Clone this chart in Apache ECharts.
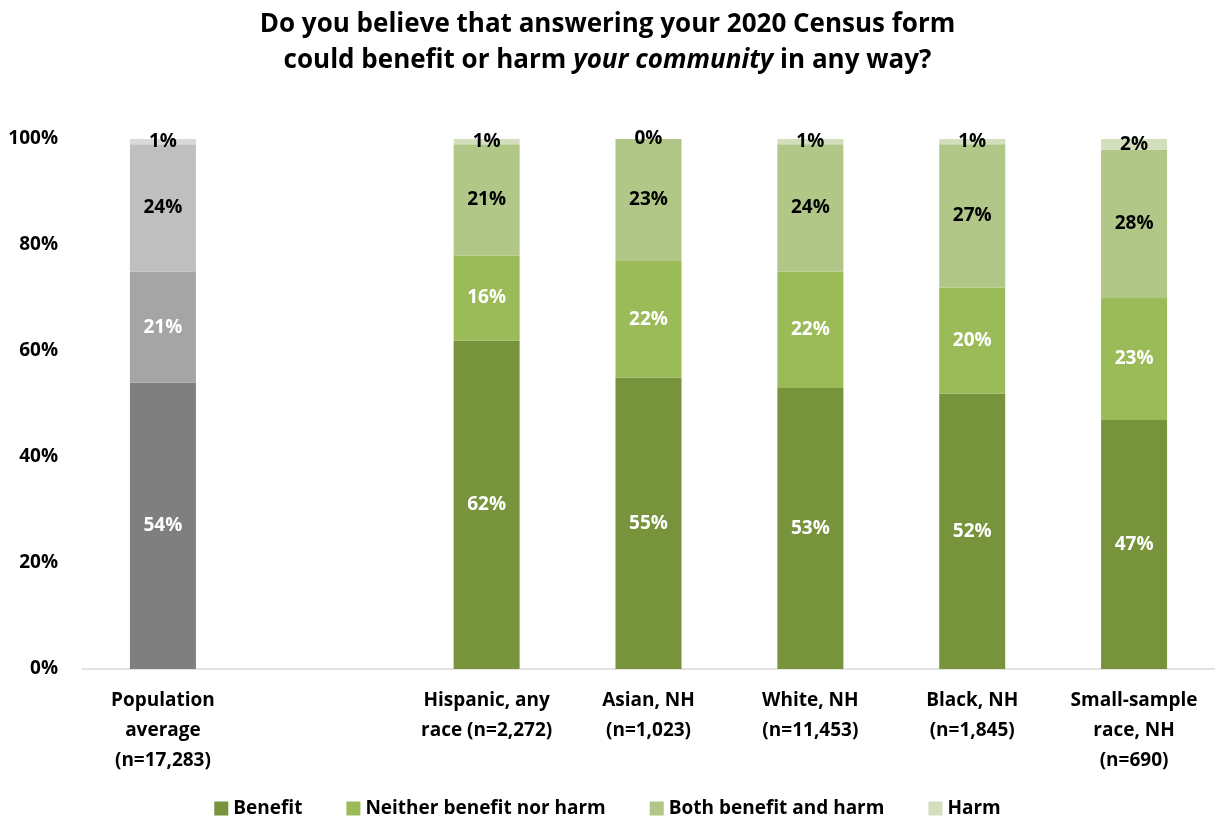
<!DOCTYPE html>
<html><head><meta charset="utf-8">
<script src="https://cdn.jsdelivr.net/npm/echarts@6/dist/echarts.min.js"></script>
<style>html,body{margin:0;padding:0;background:#fff}#c{width:1215px;height:824px}</style>
</head><body><div id="c"></div>
<script>
const categories = ["Population\naverage\n(n=17,283)", "", "Hispanic, any\nrace (n=2,272)", "Asian, NH\n(n=1,023)", "White, NH\n(n=11,453)", "Black, NH\n(n=1,845)", "Small-sample\nrace, NH\n(n=690)"];
const seriesNames = ["Benefit", "Neither benefit nor harm", "Both benefit and harm", "Harm"];
const benefit = [54, null, 62, 55, 53, 52, 47];
const neither = [21, null, 16, 22, 22, 20, 23];
const both = [24, null, 21, 23, 24, 27, 28];
const harm = [1, null, 1, 0, 1, 1, 2];
const yTicks = [0, 20, 40, 60, 80, 100];

const greens = ["#77933c", "#9bbb59", "#b0c788", "#d3dfbc"];
const greys = ["#7f7f7f", "#a5a5a5", "#bfbfbf", "#d9d9d9"];
const labelColors = ["#fff", "#fff", "#000", "#000"];
const FONT = "Open Sans";

const values = [benefit, neither, both, harm];
const series = values.map((arr, si) => ({
  name: seriesNames[si],
  type: "bar",
  stack: "s",
  barWidth: 66,
  itemStyle: { color: greens[si] },
  label: {
    show: true, position: "inside",
    formatter: p => p.value == null ? "" : p.value + "%",
    color: labelColors[si], fontFamily: FONT, fontWeight: "bold", fontSize: 19
  },
  data: arr.map((v, i) => i === 0 ? { value: v, itemStyle: { color: greys[si] } } : v)
}));

const chart = echarts.init(document.getElementById("c"));
chart.setOption({
  animation: false,
  title: {
    text: "Do you believe that answering your 2020 Census form\n{n|could benefit or harm }{i|your community}{n| in any way?}",
    left: "center", top: 2,
    textStyle: {
      fontFamily: FONT, fontWeight: "bold", fontSize: 26, color: "#000", lineHeight: 36,
      rich: {
        n: { fontFamily: FONT, fontWeight: "bold", fontSize: 26, color: "#000", lineHeight: 36 },
        i: { fontFamily: FONT, fontWeight: "bold", fontStyle: "italic", fontSize: 26, color: "#000", lineHeight: 36 }
      }
    }
  },
  legend: {
    bottom: 1, left: "center", itemWidth: 14, itemHeight: 14, itemGap: 44,
    icon: "rect",
    textStyle: { fontFamily: FONT, fontWeight: "bold", fontSize: 19, color: "#000" }
  },
  grid: { left: 82, top: 139, width: 1139, height: 530 },
  xAxis: {
    type: "category", data: categories,
    axisLine: { lineStyle: { color: "#d9d9d9", width: 1.5 } },
    axisTick: { show: false },
    axisLabel: { interval: 0, margin: 17, fontFamily: FONT, fontWeight: "bold", fontSize: 19, color: "#000", lineHeight: 30 }
  },
  yAxis: {
    type: "value", min: yTicks[0], max: yTicks[yTicks.length - 1], interval: yTicks[1] - yTicks[0],
    splitLine: { show: false }, axisLine: { show: false }, axisTick: { show: false },
    axisLabel: { formatter: "{value}%", margin: 24, fontFamily: FONT, fontWeight: "bold", fontSize: 19, color: "#000" }
  },
  series: series
});
</script></body></html>
